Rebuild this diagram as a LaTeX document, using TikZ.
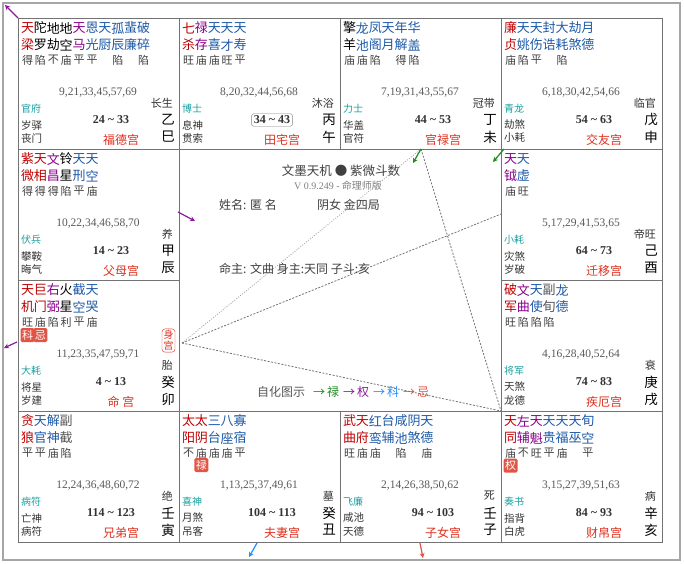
\documentclass[tikz,border=0pt]{standalone}
\usepackage{fontspec}
\setmainfont{Noto Sans CJK SC}
\newfontfamily\numfont{Liberation Serif}
\usetikzlibrary{arrows.meta}
\definecolor{zr}{HTML}{C00000}
\definecolor{zp}{HTML}{8B008B}
\definecolor{zb}{HTML}{1E5AA8}
\definecolor{zk}{HTML}{000000}
\definecolor{zg}{HTML}{555555}
\definecolor{tealgod}{HTML}{1AA0A0}
\definecolor{gongred}{HTML}{E0301E}
\definecolor{huared}{HTML}{E05545}
\definecolor{lugreen}{HTML}{1E8C1E}
\definecolor{quanpurple}{HTML}{8B1A9B}
\definecolor{keblue}{HTML}{1E90FF}
\tikzset{
  grid/.style={draw=black!55, line width=1pt},
  xing/.style={inner sep=0pt, font=\fontsize{13}{13}\selectfont},
  liang/.style={inner sep=0pt, text=black!75, font=\fontsize{11}{11}\selectfont},
  hua/.style={fill=huared, text=white, rounded corners=1.5pt, inner sep=0pt, minimum width=14pt, minimum height=14pt, font=\fontsize{11}{11}\selectfont},
  age/.style={inner sep=0pt, text=black!65, font=\numfont\fontsize{11.5}{12}\selectfont},
  stage/.style={inner sep=0pt, text=black!80, anchor=east, font=\fontsize{11}{11}\selectfont},
  boshi/.style={inner sep=0pt, text=tealgod, anchor=west, font=\fontsize{10}{10}\selectfont},
  god/.style={inner sep=0pt, text=black!80, anchor=west, font=\fontsize{10.5}{10}\selectfont},
  dec/.style={inner sep=2pt, text=black!80, font=\numfont\bfseries\fontsize{12}{12}\selectfont},
  ganzhi/.style={inner sep=0pt, font=\fontsize{13.5}{13}\selectfont},
  gname/.style={inner sep=0pt, text=gongred, font=\fontsize{12}{12}\selectfont},
  ctxt/.style={inner sep=0pt, text=black!75, font=\fontsize{12}{12}\selectfont},
  sanfang/.style={black!55, line width=0.8pt, dash pattern=on 2pt off 1.5pt},
  huaarrow/.style={line width=1.2pt, -{Stealth[length=5pt,width=5pt]}}
}
\newcommand\xing[1]{%
  \foreach \a/\b/\c/\l [count=\i] in {#1} {
    \node[xing,text=\c] (\pn-a\i) at ({9.5+12.9*(\i-1)},10) {\a};
    \node[xing,text=\c] (\pn-b\i) at ({9.5+12.9*(\i-1)},27) {\b};
    \node[liang] (\pn-l\i) at ({9.5+12.9*(\i-1)},42) {\l};
  }}
\newcommand\gong[9]{%
  \draw[grid] (0,0) rectangle (161,131);
  \node[age] (\pn-age) at (80,75) {#1};
  \node[stage] (\pn-stage) at (155,85) {#2};
  \node[boshi] (\pn-boshi) at (3,91) {#3};
  \node[god] (\pn-sui) at (3,107) {#4};
  \node[god] (\pn-jiang) at (3,120) {#5};
  \node[dec] (\pn-dec) at (93,102) {#6};
  \node[ganzhi] (\pn-gan) at (150,102) {#7};
  \node[ganzhi] (\pn-zhi) at (150,119) {#8};
  \node[gname] (\pn-name) at (103,122) {#9};}
\def\til{\textasciitilde{}}

\begin{document}
\begin{tikzpicture}[x=1pt,y=-1pt]
\useasboundingbox (0,0) rectangle (684,563);
\fill[white] (0,0) rectangle (684,563);
\draw[black!35, line width=1.2pt] (3,3) rectangle (680,560);

\begin{scope}[shift={(18,18)}]\def\pn{si}
  \xing{天/梁/zr/得, 陀/罗/zk/陷, 地/劫/zk/不, 地/空/zk/庙, 天/马/zp/平, 恩/光/zb/平, 天/厨/zb/{}, 孤/辰/zb/陷, 蜚/廉/zb/{}, 破/碎/zb/陷}
  \gong{9,21,33,45,57,69}{长生}{官府}{岁驿}{丧门}{24 \til\ 33}{乙}{巳}{福德宫}
\end{scope}
\begin{scope}[shift={(179,18)}]\def\pn{wu}
  \xing{七/杀/zr/旺, 禄/存/zp/庙, 天/喜/zb/庙, 天/才/zb/旺, 天/寿/zb/平}
  \gong{8,20,32,44,56,68}{沐浴}{博士}{息神}{贯索}{34 \til\ 43}{丙}{午}{田宅宫}
  \draw[black!50, rounded corners=2pt] (wu-dec.south west) rectangle (wu-dec.north east);
\end{scope}
\begin{scope}[shift={(340,18)}]\def\pn{wei}
  \xing{擎/羊/zk/庙, 龙/池/zb/庙, 凤/阁/zb/陷, 天/月/zb/{}, 年/解/zb/得, 华/盖/zb/陷}
  \gong{7,19,31,43,55,67}{冠带}{力士}{华盖}{官符}{44 \til\ 53}{丁}{未}{官禄宫}
\end{scope}
\begin{scope}[shift={(501,18)}]\def\pn{shen}
  \xing{廉/贞/zr/庙, 天/姚/zb/陷, 天/伤/zb/平, 封/诰/zb/{}, 大/耗/zb/陷, 劫/煞/zb/{}, 月/德/zb/{}}
  \gong{6,18,30,42,54,66}{临官}{青龙}{劫煞}{小耗}{54 \til\ 63}{戊}{申}{交友宫}
\end{scope}
\begin{scope}[shift={(18,149)}]\def\pn{chen}
  \xing{紫/微/zr/得, 天/相/zr/得, 文/昌/zp/得, 铃/星/zk/陷, 天/刑/zb/平, 天/空/zb/庙}
  \gong{10,22,34,46,58,70}{养}{伏兵}{攀鞍}{晦气}{14 \til\ 23}{甲}{辰}{父母宫}
\end{scope}
\begin{scope}[shift={(501,149)}]\def\pn{you}
  \xing{天/钺/zp/庙, 天/虚/zb/旺}
  \gong{5,17,29,41,53,65}{帝旺}{小耗}{灾煞}{岁破}{64 \til\ 73}{己}{酉}{迁移宫}
\end{scope}
\begin{scope}[shift={(18,280)}]\def\pn{mao}
  \xing{天/机/zr/旺, 巨/门/zr/庙, 右/弼/zp/陷, 火/星/zk/利, 截/空/zb/平, 天/哭/zb/庙}
  \gong{11,23,35,47,59,71}{胎}{大耗}{将星}{岁建}{4 \til\ 13}{癸}{卯}{命 宫}
  \node[hua] (mao-ke) at (9.5,55) {科};
  \node[hua] (mao-ji) at (22.4,55) {忌};
  \node[draw=gongred, text=gongred, rounded corners=3pt, inner sep=1.5pt, align=center,
        font=\fontsize{10}{11}\selectfont] (mao-shen) at (150.5,60.5) {身\\宫};
\end{scope}
\begin{scope}[shift={(501,280)}]\def\pn{xu}
  \xing{破/军/zr/旺, 文/曲/zp/陷, 天/使/zb/陷, 副/旬/zg/陷, 龙/德/zb/{}}
  \gong{4,16,28,40,52,64}{衰}{将军}{天煞}{龙德}{74 \til\ 83}{庚}{戌}{疾厄宫}
\end{scope}
\begin{scope}[shift={(18,411)}]\def\pn{yin}
  \xing{贪/狼/zr/平, 天/官/zb/平, 解/神/zb/庙, 副/截/zg/陷}
  \gong{12,24,36,48,60,72}{绝}{病符}{亡神}{病符}{114 \til\ 123}{壬}{寅}{兄弟宫}
\end{scope}
\begin{scope}[shift={(179,411)}]\def\pn{chou}
  \xing{太/阳/zr/不, 太/阴/zr/庙, 三/台/zb/庙, 八/座/zb/庙, 寡/宿/zb/平}
  \gong{1,13,25,37,49,61}{墓}{喜神}{月煞}{吊客}{104 \til\ 113}{癸}{丑}{夫妻宫}
  \node[hua] (chou-lu) at (22.4,54) {禄};
\end{scope}
\begin{scope}[shift={(340,411)}]\def\pn{zi}
  \xing{武/曲/zr/旺, 天/府/zr/庙, 红/鸾/zb/庙, 台/辅/zb/{}, 咸/池/zb/陷, 阴/煞/zb/{}, 天/德/zb/庙}
  \gong{2,14,26,38,50,62}{死}{飞廉}{咸池}{天德}{94 \til\ 103}{壬}{子}{子女宫}
\end{scope}
\begin{scope}[shift={(501,411)}]\def\pn{hai}
  \xing{天/同/zr/庙, 左/辅/zp/不, 天/魁/zp/旺, 天/贵/zb/平, 天/福/zb/庙, 天/巫/zb/{}, 旬/空/zb/平}
  \gong{3,15,27,39,51,63}{病}{奏书}{指背}{白虎}{84 \til\ 93}{辛}{亥}{财帛宫}
  \node[hua] (hai-quan) at (9.5,54.5) {权};
\end{scope}

\node[ctxt, font=\fontsize{12.5}{13}\selectfont] (title) at (341,171) {文墨天机 ● 紫微斗数};
\node[ctxt, text=black!50, font=\fontsize{10}{10}\selectfont] (ver) at (338,186) {{\numfont V 0.9.249 -} 命理师版};
\node[ctxt, anchor=west] (xingming) at (219,205) {姓名: 匿 名};
\node[ctxt, anchor=west] (yinnv) at (317,205) {阴女 金四局};
\node[ctxt, anchor=west] (mingzhu) at (219,269) {命主: 文曲 身主:天同 子斗:亥};
\node[ctxt, anchor=west, text=black!65] (legend) at (257,392) {自化图示};
\node[ctxt, anchor=west, text=lugreen] (leg-lu) at (313,392) {→\,禄};
\node[ctxt, anchor=west, text=quanpurple] (leg-quan) at (343,392) {→\,权};
\node[ctxt, anchor=west, text=keblue] (leg-ke) at (373,392) {→\,科};
\node[ctxt, anchor=west, text=huared] (leg-ji) at (403,392) {→\,忌};

\coordinate (ming) at (182,343);
\coordinate (guan) at (421,149);
\coordinate (qian) at (501,214);
\coordinate (cai) at (501,411);
\draw[sanfang, black!35, dash pattern=on 1pt off 1.5pt] (ming) -- (guan);
\draw[sanfang] (ming) -- (qian);
\draw[sanfang] (ming) -- (cai);
\draw[sanfang] (guan) -- (cai);

\coordinate (si-out) at (5,5);
\coordinate (si-edge) at (18,18);
\coordinate (mao-out) at (4,348);
\coordinate (mao-edge) at (17,342);
\coordinate (chen-in) at (195,221);
\coordinate (chen-edge) at (178,212);
\coordinate (wei-in) at (413,163);
\coordinate (shen-in) at (493,162);
\coordinate (shen-edge) at (504,149);
\coordinate (chou-out) at (249,557);
\coordinate (chou-edge) at (257,543);
\coordinate (zi-out) at (423,558);
\coordinate (zi-edge) at (420,543);
\draw[huaarrow, quanpurple] (si-edge) -- (si-out);
\draw[huaarrow, quanpurple] (mao-edge) -- (mao-out);
\draw[huaarrow, quanpurple] (chen-edge) -- (chen-in);
\draw[huaarrow, lugreen] (guan) -- (wei-in);
\draw[huaarrow, lugreen] (shen-edge) -- (shen-in);
\draw[huaarrow, keblue] (chou-edge) -- (chou-out);
\draw[huaarrow, huared] (zi-edge) -- (zi-out);
\end{tikzpicture}
\end{document}
